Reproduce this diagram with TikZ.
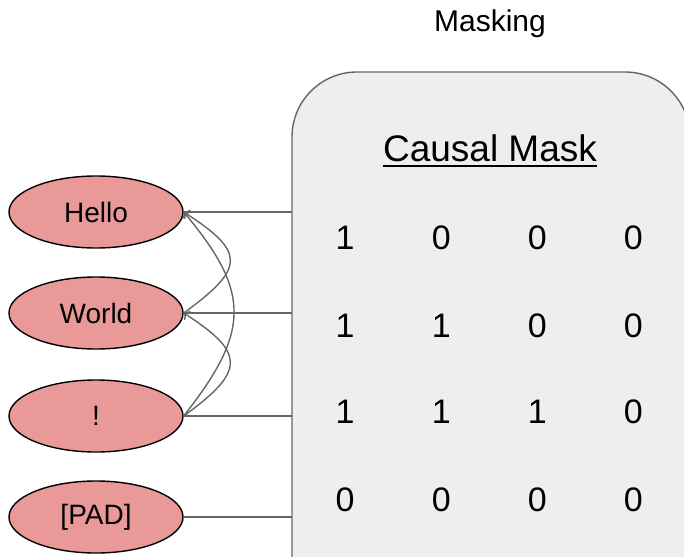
\documentclass[tikz,border=0pt]{standalone}
\usepackage{fontspec}
\setmainfont{Liberation Sans}
\usetikzlibrary{arrows,arrows.meta,calc,shapes.geometric}
\definecolor{tokred}{HTML}{EA9999}
\definecolor{maskgray}{HTML}{EEEEEE}
\definecolor{linegray}{HTML}{666666}
\tikzset{
  token/.style={ellipse, draw=black, line width=1.4pt, fill=tokred,
    minimum width=174pt, minimum height=72pt, inner sep=0pt,
    font=\fontsize{28}{31}\selectfont},
  link/.style={draw=linegray, line width=1.4pt},
  attend/.style={link, -{To[length=5pt,width=11pt]}},
  entry/.style={inner sep=0pt, font=\fontsize{34}{38}\selectfont}
}
\begin{document}
\begin{tikzpicture}[x=1pt, y=-1pt]
	    \useasboundingbox (0,0) rectangle (684,556);
	    \clip (0,0) rectangle (684,556);
	    % mask panel
	    \draw[draw=linegray, line width=1.4pt, fill=maskgray, rounded corners=65pt]
	        (292,72) rectangle (690,640);
	    \coordinate (panel) at (292,72);
	    \node[inner sep=0pt, font=\fontsize{30}{33}\selectfont] (masking) at (490,24) {Masking};
	    \node[inner sep=0pt, font=\fontsize{37}{40}\selectfont] (title) at (490,148) {Causal Mask};
	    \draw[line width=2pt] ([yshift=-4pt]title.south west) -- ([yshift=-4pt]title.south east);
	    % tokens
	    \node[token] (hello) at (96,212) {Hello};
	    \node[token] (world) at (96,313) {World};
	    \node[token] (excl) at (96,416) {!};
	    \node[token] (pad) at (96,517) {[PAD]};
	    \foreach \t in {hello,world,excl,pad}
	        \draw[link] (\t.east) -- (\t.east -| panel);
	    % attention arcs
	    \draw[attend] (world.east) .. controls +(62,-45) and +(62,40) .. (hello.east);
	    \draw[attend] (excl.east) .. controls +(62,-45) and +(62,40) .. (world.east);
	    \draw[attend] (excl.east) .. controls +(67,-85) and +(67,80) .. (hello.east);
	    % mask entries
	    \foreach \r/\y/\row in {1/238/{1,0,0,0},2/326/{1,1,0,0},3/412/{1,1,1,0},4/500/{0,0,0,0}}
	        \foreach \v [count=\c] in \row
	            \node[entry] (m\r\c) at (249+96.1*\c,\y) {\v};
\end{tikzpicture}
\end{document}
